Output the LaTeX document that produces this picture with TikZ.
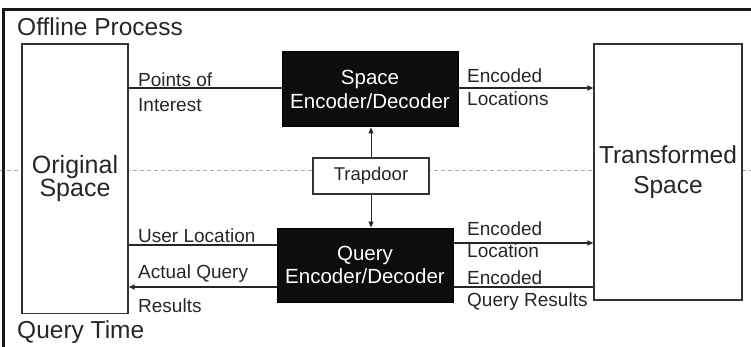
\documentclass[tikz,border=0pt]{standalone}
\usepackage{fontspec}
\setmainfont{Liberation Sans}
\usetikzlibrary{arrows.meta}
\begin{document}
\begin{tikzpicture}[x=1pt,y=-1pt,
  plainbox/.style={draw=black!80, line width=1.4pt, fill=white, align=center, inner sep=0pt, text=black!85},
  darkbox/.style={draw=black, fill=black!95, line width=1pt, align=center, inner sep=0pt, text=white,
    font=\fontsize{20.5}{24.5}\selectfont},
  lbl/.style={inner sep=0pt, anchor=base west, text=black!85, font=\fontsize{19}{22}\selectfont},
  title/.style={inner sep=0pt, anchor=base west, text=black!85, font=\fontsize{24.5}{28}\selectfont},
  conn/.style={draw=black!85, line width=1.5pt},
  tip/.style={-{Triangle[length=6pt,width=5pt]}}
]
\useasboundingbox (0,0) rectangle (751,347);

% separator between the offline part and query time
\draw[gray!70, line width=0.8pt, dash pattern=on 4pt off 3pt] (0,170) -- (751,170);

% outer frame (top and left edges only)
\draw[black!90, line width=3.5pt] (3.5,347) -- (3.5,9.5) -- (751,9.5);

% section titles
\node[title] (offline) at (17,36) {Offline Process};
\node[title] (qtime) at (17,338) {Query Time};

% boxes
\node[plainbox, minimum width=106pt, minimum height=269.5pt, font=\fontsize{25}{23.5}\selectfont]
  (orig) at (75,178.75) {Original\\Space};
\node[plainbox, minimum width=148pt, minimum height=256pt, font=\fontsize{24.5}{30}\selectfont]
  (trans) at (668,172) {Transformed\\Space};
\node[darkbox, minimum width=176pt, minimum height=75pt] (space) at (370,89.5) {Space\\Encoder/Decoder};
\node[darkbox, minimum width=176pt, minimum height=74pt, font=\fontsize{20.5}{23}\selectfont]
  (query) at (365,265) {Query\\Encoder/Decoder};
\node[plainbox, line width=1.2pt, minimum width=116pt, minimum height=36pt, font=\fontsize{18.5}{22}\selectfont]
  (trap) at (371,176) {Trapdoor};

% trapdoor feeds both encoders
\draw[conn, line width=1pt, tip] (trap.north) -- (trap.north |- space.south);
\draw[conn, line width=1pt, tip] (trap.south) -- (trap.south |- query.north);

% offline process
\coordinate (sp) at ([yshift=1.5pt]space.west);
\coordinate (se) at ([yshift=1.5pt]space.east);
\draw[conn] (sp -| orig.east) -- (sp);
\draw[conn, tip] (se) -- (se -| trans.west);
\node[lbl] (poi1) at (138,87) {Points of};
\node[lbl] (poi2) at (138,112) {Interest};
\node[lbl] (el1) at (467,83) {Encoded};
\node[lbl] (el2) at (467,106) {Locations};

% query time
\coordinate (qa) at ([yshift=20pt]query.west);
\coordinate (qb) at ([yshift=-22pt]query.west);
\coordinate (qc) at ([yshift=22pt]query.east);
\coordinate (qd) at ([yshift=-22pt]query.east);
\draw[conn] (qa -| orig.east) -- (qa);
\draw[conn, tip] (qb) -- (qb -| orig.east);
\draw[conn, tip] (qc) -- (qc -| trans.west);
\draw[conn] (qd -| trans.west) -- (qd);
\node[lbl] (ul) at (138,242) {User Location};
\node[lbl] (aq1) at (138,278) {Actual Query};
\node[lbl] (aq2) at (138,312) {Results};
\node[lbl] (eq1) at (467,235) {Encoded};
\node[lbl] (eq2) at (467,257) {Location};
\node[lbl] (er1) at (467,284) {Encoded};
\node[lbl] (er2) at (467,306) {Query Results};
\end{tikzpicture}
\end{document}
